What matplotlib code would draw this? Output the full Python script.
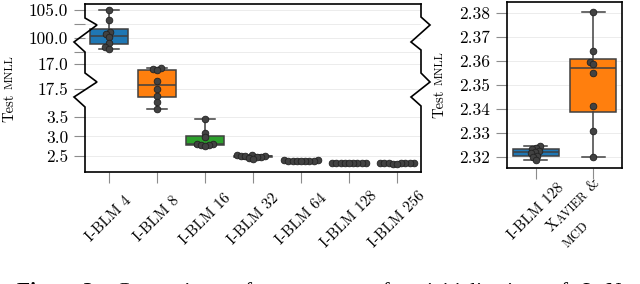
import numpy as np
import pandas as pd
import matplotlib
matplotlib.use("Agg")
import matplotlib.pyplot as plt
import seaborn as sns
from matplotlib.lines import Line2D
from matplotlib.transforms import IdentityTransform
import warnings
warnings.filterwarnings("ignore")

# ------------------------------------------------------------------ data
left_categories = ["I-BLM 4", "I-BLM 8", "I-BLM 16", "I-BLM 32",
                   "I-BLM 64", "I-BLM 128", "I-BLM 256"]
blm4 = [105.0, 103.2, 101.07, 100.71, 100.18, 99.11, 98.39, 98.04]
blm8 = [17.92, 17.90, 17.88, 17.66, 17.50, 17.36, 17.24, 17.10]
blm16 = [3.45, 3.10, 2.99, 2.82, 2.80, 2.78, 2.77, 2.76]
blm32 = [2.53, 2.52, 2.51, 2.50, 2.49, 2.48, 2.47, 2.45, 2.43]
blm64 = [2.389, 2.386, 2.384, 2.382, 2.380, 2.378, 2.377, 2.375, 2.372]
blm128 = [2.3246, 2.3237, 2.3232, 2.3224, 2.3220, 2.3216, 2.3205, 2.3201, 2.3188]
blm256 = [2.316, 2.314, 2.312, 2.311, 2.310, 2.309, 2.308, 2.306, 2.304]
left_series = [blm4, blm8, blm16, blm32, blm64, blm128, blm256]

right_categories = ["I-BLM 128", "Xavier & MCD"]
xavier_mcd = [2.3804, 2.3642, 2.3596, 2.3588, 2.3550, 2.3413, 2.3308, 2.3200]
right_series = [blm128, xavier_mcd]

left_ticks = [2.5, 3.0, 3.5, 17.5, 18.0, 97.5, 100.0, 102.5, 105.0]
left_ticklabels = ["2.5", "3.0", "3.5", "17.5", "17.0", "", "100.0", "", "105.0"]
right_ticks = [2.32, 2.33, 2.34, 2.35, 2.36, 2.37, 2.38]
right_ticklabels = ["2.32", "2.33", "2.34", "2.35", "2.36", "2.37", "2.38"]

left_colors = ["#1f77b4", "#ff7f0e", "#2ca02c", "#d62728", "#9467bd", "#8c564b", "#e377c2"]
right_colors = ["#1f77b4", "#ff7f0e"]

# ------------------------------------------------------------------ style
plt.rcParams["font.family"] = ["cmr10", "DejaVu Serif"]
plt.rcParams["axes.unicode_minus"] = False
EDGE = "#404040"
PT_FACE = "#424242"
PT_EDGE = "#222222"

W, H = 640, 284
fig = plt.figure(figsize=(W / 100, H / 100), dpi=100)

# axes placement in pixels (left, top, right, bottom)
L_l, L_t, L_r, L_b = 85, 4, 421, 172
R_l, R_t, R_r, R_b = 507, 2, 622, 168
axL = fig.add_axes([L_l / W, (H - L_b) / H, (L_r - L_l) / W, (L_b - L_t) / H])
axR = fig.add_axes([R_l / W, (H - R_b) / H, (R_r - R_l) / W, (R_b - R_t) / H])


def long_df(cats, series):
    return pd.DataFrame({
        "group": np.concatenate([[c] * len(s) for c, s in zip(cats, series)]),
        "value": np.concatenate([np.asarray(s, float) for s in series]),
    })


def draw_group(ax, cats, series, colors):
    sns.swarmplot(data=long_df(cats, series), x="group", y="value", order=cats,
                  ax=ax, color=PT_FACE, size=2.9, linewidth=0, zorder=4)
    bp = ax.boxplot(series, positions=np.arange(len(series)), widths=0.8,
                    capwidths=0.4, whis=(0, 100), patch_artist=True,
                    showfliers=False, manage_ticks=False, zorder=2,
                    boxprops=dict(edgecolor=EDGE, linewidth=1.1),
                    whiskerprops=dict(color=EDGE, linewidth=1.1),
                    capprops=dict(color=EDGE, linewidth=1.1),
                    medianprops=dict(color=EDGE, linewidth=1.1))
    for patch, c in zip(bp["boxes"], colors):
        patch.set_facecolor(c)


draw_group(axL, left_categories, left_series, left_colors)
draw_group(axR, right_categories, right_series, right_colors)

# broken (piecewise) y scale for the left panel: knots in (value, pixel-from-top)
knot_v = np.array([0.0, 2.09, 3.628, 17.04, 18.12, 96.43, 106.07, 200.0])
knot_y = np.array([253.5, 172.0, 112.0, 111.99, 58.0, 57.99, 4.0, -522.0])
knot_u = -knot_y


def fwd(v):
    return np.interp(v, knot_v, knot_u)


def inv(u):
    return np.interp(u, knot_u, knot_v)


axL.set_yscale("function", functions=(fwd, inv))
axL.set_ylim(2.09, 106.07)
axL.set_xlim(-0.5, 6.5)
axR.set_ylim(2.32 - 11 / 2400, 2.32 + 155 / 2400)
axR.set_xlim(-0.5, 1.5)

for ax in (axL, axR):
    ax.set_xlabel("")
    ax.set_ylabel("")
    ax.set_axisbelow(True)
    ax.yaxis.grid(True, color="#ececec", linewidth=0.7)
    ax.xaxis.grid(False)
    ax.tick_params(axis="both", length=8, width=0.8, color="#8c8c8c")
    ax.tick_params(axis="y", pad=4, labelsize=12.5)
    for sp in ax.spines.values():
        sp.set_color("black")
        sp.set_linewidth(1.2)

axL.set_yticks(left_ticks)
axL.set_yticklabels(left_ticklabels)
axL.minorticks_off()
axR.set_yticks(right_ticks)
axR.set_yticklabels(right_ticklabels)

axL.set_xticks(np.arange(len(left_categories)))
axL.set_xticklabels(left_categories, rotation=45, ha="center", va="center", fontsize=11)
axL.tick_params(axis="x", pad=26)
axR.set_xticks(np.arange(len(right_categories)))
axR.set_xticklabels([right_categories[0], ""], rotation=45, ha="center", va="center", fontsize=11)
axR.tick_params(axis="x", pad=23)

# zig-zag break marks on the left panel's side spines
axL.spines["left"].set_visible(False)
axL.spines["right"].set_visible(False)
AW, AH = L_r - L_l, L_b - L_t


def zigzag(ax, xfrac, pts):
    xs = [xfrac + dx / AW for dx, yd in pts]
    ys = [(L_b - yd) / AH for dx, yd in pts]
    ax.add_line(Line2D(xs, ys, transform=ax.transAxes, color="black", lw=1.2,
                       clip_on=False, solid_joinstyle="miter", zorder=5))


zigzag(axL, 0.0, [(0, 4), (0, 18), (12, 25), (-11, 42), (0, 52), (0, 73),
                  (12, 82), (-11, 97), (0, 107), (0, 172)])
zigzag(axL, 1.0, [(0, 4), (0, 17), (9, 25), (-10, 42), (0, 50), (0, 73),
                  (9, 82), (-10, 97), (0, 106), (0, 172)])

# compute swarm layout, then enlarge the markers keeping the layout
fig.canvas.draw()
for ax in (axL, axR):
    for coll in ax.collections:
        if "draw" in coll.__dict__:
            del coll.draw
        coll.set_sizes([23])
        coll.set_linewidth(0.6)
        coll.set_edgecolor(PT_EDGE)
        coll.set_facecolor(PT_FACE)

renderer = fig.canvas.get_renderer()


def draw_pieces(x, y, pieces, angle=0.0, family=None, target_len=None):
    """pieces: (text, size, weight, gap_after_in_em)"""
    texts, widths, gaps = [], [], []
    for s, size, weight, gap in pieces:
        kw = dict(fontsize=size, fontweight=weight, transform=IdentityTransform(),
                  ha="left", va="baseline", rotation_mode="anchor")
        if family:
            kw["family"] = family
        t = fig.text(0, 0, s, **kw)
        widths.append(t.get_window_extent(renderer=renderer).width)
        t.set_rotation(angle)
        texts.append(t)
        gaps.append(gap * size * 100 / 72)
    if target_len is not None:
        n = sum(1 for g in gaps[:-1] if g > 0)
        extra = (target_len - sum(widths) - sum(gaps[:-1])) / max(n, 1)
        gaps = [g + extra if g > 0 else g for g in gaps]
    c, s_ = np.cos(np.radians(angle)), np.sin(np.radians(angle))
    pos = 0.0
    for t, w, g in zip(texts, widths, gaps):
        t.set_position((x + pos * c, y + pos * s_))
        pos += w + g


# y labels ("Test" + small-caps "MNLL")
draw_pieces(13, H - 122, [("Test", 10.5, "normal", 0.33), ("MNLL", 8.4, "normal", 0)], angle=90)
draw_pieces(443, H - 118, [("Test", 10.5, "normal", 0.33), ("MNLL", 8.4, "normal", 0)], angle=90)

# second x tick label of the right panel (small caps, two lines)
draw_pieces(552, H - 232, [("X", 11, "normal", 0), ("AVIER", 8.8, "normal", 0.4),
                           ("&", 11, "normal", 0)], angle=45)
draw_pieces(568, H - 248, [("MCD", 9.2, "normal", 0)], angle=45)

# caption (partly cut off at the bottom)
CS, CSS = 15.5, 12.3
cap = [("Figure 3:", CS, "bold", 0.25),
       ("Comparison", CS, "normal", 0.25), ("of", CS, "normal", 0.25),
       ("test", CS, "normal", 0.25), ("MNLL", CSS, "normal", 0.25),
       ("after", CS, "normal", 0.25), ("initialization", CS, "normal", 0.25),
       ("of", CS, "normal", 0.25), ("L", CS, "normal", 0), ("E", CSS, "normal", 0),
       ("N", CS, "normal", 0), ("ET", CSS, "normal", 0)]
draw_pieces(17, H - 297, cap, family="Liberation Serif", target_len=625)

fig.savefig("out.png", dpi=100)
